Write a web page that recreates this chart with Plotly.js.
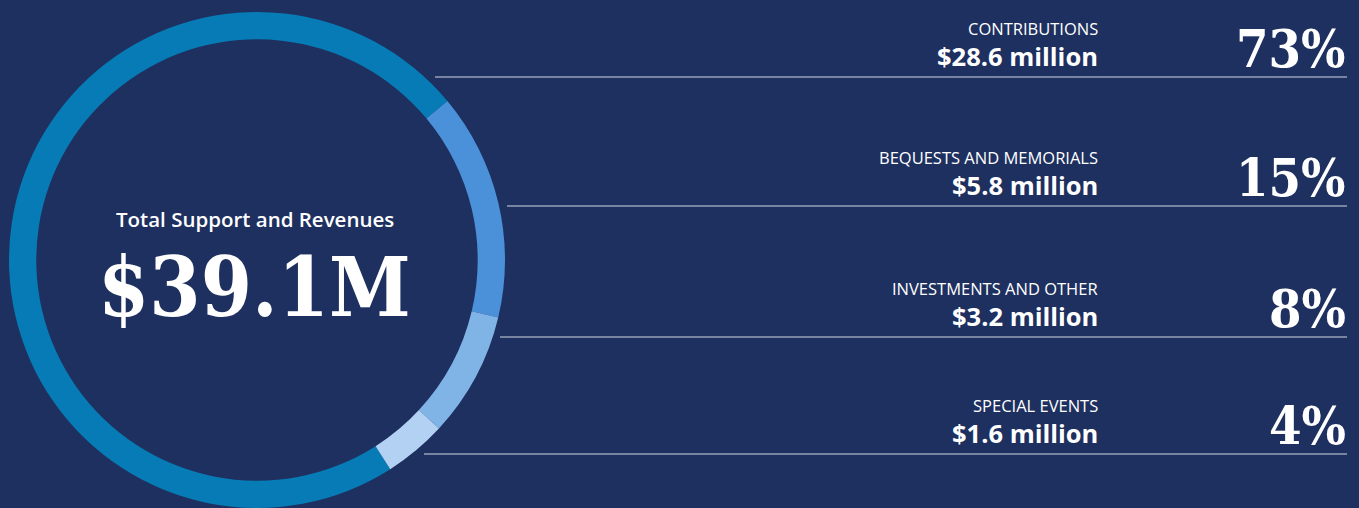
<!DOCTYPE html>
<html>
<head>
<meta charset="utf-8">
<script src="https://cdn.plot.ly/plotly-3.0.1.min.js"></script>
<style>
  html, body { margin: 0; padding: 0; background: #1e3060; }
  #chart { width: 1359px; height: 508px; }
</style>
</head>
<body>
<div id="chart"></div>
<script>
// ---- data ----
const categories = ["CONTRIBUTIONS", "BEQUESTS AND MEMORIALS", "INVESTMENTS AND OTHER", "SPECIAL EVENTS"];
const amounts = [28.6, 5.8, 3.2, 1.6];               // $ million
const amountLabels = ["$28.6 million", "$5.8 million", "$3.2 million", "$1.6 million"];
const percentLabels = ["73%", "15%", "8%", "4%"];
const totalLabel = "$39.1M";
const totalTitle = "Total Support and Revenues";
const colors = ["#077bb5", "#4b91da", "#80b3e6", "#b3d2f3"];

// ---- layout helpers (pixels -> paper) ----
const W = 1359, H = 508;
const px = x => x / W;
const py = y => 1 - y / H;

const sans = "'Open Sans', 'Noto Sans', sans-serif";
const serif = "'DejaVu Serif Condensed', 'DejaVu Serif', serif";

// row geometry (divider line y, divider line start x)
const rowLineY = [77, 206, 337, 454];
const rowLineX0 = [435, 507, 500, 424];

const annotations = [];
const shapes = [];
categories.forEach((c, i) => {
  const ly = rowLineY[i];
  annotations.push({
    x: px(1100), y: py(ly - 49), xref: "paper", yref: "paper",
    xanchor: "right", yanchor: "middle", showarrow: false,
    text: c, font: {family: sans, size: 16.5, color: "#ffffff", weight: 400}
  });
  annotations.push({
    x: px(1100), y: py(ly - 21), xref: "paper", yref: "paper",
    xanchor: "right", yanchor: "middle", showarrow: false,
    text: amountLabels[i], font: {family: sans, size: 25.5, color: "#ffffff", weight: 700}
  });
  annotations.push({
    x: px(1348), y: py(ly - 29), xref: "paper", yref: "paper",
    xanchor: "right", yanchor: "middle", showarrow: false,
    text: percentLabels[i], font: {family: serif, size: 52, color: "#ffffff", weight: 700}
  });
  shapes.push({
    type: "line", xref: "paper", yref: "paper",
    x0: px(rowLineX0[i]), x1: px(1347), y0: py(ly), y1: py(ly),
    line: {color: "rgba(230,233,242,0.9)", width: 1}
  });
});

annotations.push({
  x: px(255), y: py(219), xref: "paper", yref: "paper",
  xanchor: "center", yanchor: "middle", showarrow: false,
  text: totalTitle, font: {family: sans, size: 20.5, color: "#ffffff", weight: 600}
});
annotations.push({
  x: px(254), y: py(287), xref: "paper", yref: "paper",
  xanchor: "center", yanchor: "middle", showarrow: false,
  text: totalLabel, font: {family: serif, size: 82, color: "#ffffff", weight: 700}
});

const trace = {
  type: "pie",
  labels: categories,
  values: amounts,
  marker: {colors: colors, line: {width: 0}},
  hole: 0.89,
  sort: false,
  direction: "clockwise",
  rotation: 147.5,
  textinfo: "none",
  hoverinfo: "label+value+percent",
  showlegend: false,
  domain: {x: [px(9), px(505)], y: [0, py(12)]}
};

const layout = {
  width: W, height: H,
  margin: {l: 0, r: 0, t: 0, b: 0},
  paper_bgcolor: "#1e3060",
  plot_bgcolor: "#1e3060",
  showlegend: false,
  annotations: annotations,
  shapes: shapes
};

Plotly.newPlot("chart", [trace], layout, {displayModeBar: false, staticPlot: true});
</script>
</body>
</html>
